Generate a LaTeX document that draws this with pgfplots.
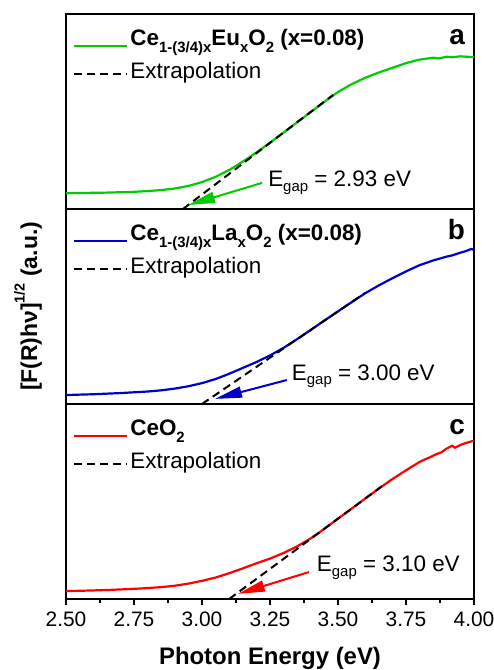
\documentclass[border=0pt]{standalone}
\usepackage{pgfplots}
\pgfplotsset{compat=1.18}
\usepackage{fontspec}
\setmainfont{Liberation Sans}
\usetikzlibrary{arrows.meta}
\definecolor{cgreen}{RGB}{0,204,0}
\definecolor{cblue}{RGB}{0,0,205}
\definecolor{cred}{RGB}{255,0,0}
\newcommand{\sub}[1]{\raisebox{-7bp}{\fontsize{15}{15}\selectfont #1}}
\newcommand{\gsub}[1]{\raisebox{-4.5bp}{\fontsize{15}{15}\selectfont #1}}

\tikzset{
 curve/.style={line width=2.2bp},
 extr/.style={black, line width=2bp, dash pattern=on 8bp off 5bp},
 egap/.style={anchor=base west, inner sep=0pt, font=\fontsize{22.5}{26}\selectfont},
 letter/.style={anchor=base east, inner sep=0pt, font=\fontsize{28}{30}\selectfont\bfseries},
 arr/.style={line width=2bp, -{Triangle[length=27bp,width=11bp]}},
}
\pgfplotsset{
 panel/.style={
  scale only axis, width=408bp, height=195bp,
  xmin=2.5, xmax=4.0, ymin=0, ymax=1,
  ytick=\empty,
  axis line style={line width=1.2bp},
  every tick/.style={black, line width=1.2bp},
  legend cell align=left,
  legend style={draw=none, fill=none, at={(0,1)}, anchor=north west,
    xshift=7bp, yshift=-12bp, font=\fontsize{22.5}{26}\selectfont,
    row sep=4bp, inner sep=0pt,
    nodes={inner sep=2bp, text height=17bp, text depth=8bp}},
  legend image code/.code={\draw[##1] (0bp,0bp) -- (53bp,0bp);},
 },
 curveleg/.style={legend image code/.code={\draw[##1] (0bp,-5bp) -- (53bp,-5bp);}},
}

\begin{document}
\begin{tikzpicture}
\useasboundingbox (-66bp,-71bp) rectangle (428bp,599bp);

% ---------- panel a ----------
\begin{axis}[panel, at={(0,390bp)}, xtick=\empty]
\addplot[curve, cgreen, curveleg] coordinates {
(2.50,0.081)(2.55,0.082)(2.60,0.083)(2.65,0.084)(2.70,0.086)(2.75,0.088)
(2.80,0.092)(2.85,0.097)(2.90,0.105)(2.95,0.118)(3.00,0.138)(3.05,0.165)
(3.10,0.200)(3.15,0.243)(3.20,0.290)(3.25,0.340)(3.30,0.392)(3.35,0.445)
(3.40,0.497)(3.45,0.550)(3.50,0.600)(3.55,0.640)(3.60,0.673)(3.65,0.700)
(3.70,0.724)(3.75,0.748)(3.80,0.766)(3.85,0.776)(3.87,0.772)(3.90,0.781)
(3.92,0.778)(3.95,0.783)(3.97,0.781)(4.00,0.779)};
\addlegendentry{\textbf{Ce\sub{1-(3/4)x}Eu\sub{x}O\sub{2} (x=0.08)}}
\addplot[extr] coordinates {(2.93,0)(3.482,0.585)};
\addlegendentry{Extrapolation}
\draw[arr, cgreen] (axis cs:3.221,0.134) -- (axis cs:2.949,0.02);
\node[egap] at (axis cs:3.243,0.114) {E\gsub{gap} = 2.93 eV};
\node[letter] at (rel axis cs:0.978,0.846) {a};
\end{axis}

% ---------- panel b ----------
\begin{axis}[panel, at={(0,195bp)}, xtick=\empty]
\addplot[curve, cblue, curveleg] coordinates {
(2.50,0.046)(2.55,0.048)(2.60,0.050)(2.65,0.053)(2.70,0.056)(2.75,0.060)
(2.80,0.064)(2.85,0.070)(2.90,0.079)(2.95,0.091)(3.00,0.107)(3.05,0.128)
(3.10,0.155)(3.15,0.185)(3.20,0.215)(3.25,0.249)(3.30,0.288)(3.35,0.333)
(3.40,0.380)(3.45,0.428)(3.50,0.475)(3.55,0.522)(3.60,0.568)(3.65,0.608)
(3.70,0.645)(3.75,0.680)(3.80,0.712)(3.85,0.736)(3.88,0.748)(3.90,0.756)
(3.92,0.762)(3.95,0.776)(3.97,0.784)(3.99,0.795)(4.00,0.790)};
\addlegendentry{\textbf{Ce\sub{1-(3/4)x}La\sub{x}O\sub{2} (x=0.08)}}
\addplot[extr] coordinates {(3.00,0)(3.599,0.569)};
\addlegendentry{Extrapolation}
\draw[arr, cblue] (axis cs:3.312,0.123) -- (axis cs:3.048,0.026);
\node[egap] at (axis cs:3.33,0.123) {E\gsub{gap} = 3.00 eV};
\node[letter] at (rel axis cs:0.978,0.846) {b};
\end{axis}

% ---------- panel c ----------
\begin{axis}[panel, at={(0,0)},
  xtick={2.5,2.75,3,3.25,3.5,3.75,4}, minor x tick num=1,
  xtick pos=bottom, tick align=outside,
  major tick length=6bp, minor tick length=3.5bp,
  /pgf/number format/assume math mode=true,
  xticklabel style={font=\fontsize{21}{24}\selectfont, yshift=-3bp,
    /pgf/number format/.cd, fixed, fixed zerofill, precision=2}]
\addplot[curve, cred, curveleg] coordinates {
(2.50,0.041)(2.55,0.042)(2.60,0.044)(2.65,0.046)(2.70,0.049)(2.75,0.052)
(2.80,0.056)(2.85,0.061)(2.90,0.068)(2.95,0.079)(3.00,0.093)(3.05,0.110)
(3.10,0.132)(3.15,0.157)(3.20,0.183)(3.25,0.207)(3.30,0.236)(3.35,0.270)
(3.40,0.311)(3.45,0.360)(3.50,0.412)(3.55,0.463)(3.60,0.515)(3.65,0.566)
(3.70,0.615)(3.75,0.660)(3.80,0.703)(3.82,0.716)(3.84,0.728)(3.86,0.742)
(3.88,0.752)(3.90,0.772)(3.92,0.786)(3.93,0.776)(3.95,0.790)(3.97,0.800)
(4.00,0.812)};
\addlegendentry{\textbf{CeO\sub{2}}}
\addplot[extr] coordinates {(3.10,0)(3.673,0.59)};
\addlegendentry{Extrapolation}
\draw[arr, cred] (axis cs:3.393,0.138) -- (axis cs:3.132,0.026);
\node[egap] at (axis cs:3.422,0.14) {E\gsub{gap} = 3.10 eV};
\node[letter] at (rel axis cs:0.978,0.846) {c};
\end{axis}

\node[rotate=90, font=\fontsize{23}{27}\selectfont\bfseries] at (-38bp,292.5bp)
  {[F(R)hν]\raisebox{0.55em}{\fontsize{14.5}{15}\selectfont 1/2} (a.u.)};
\node[font=\fontsize{24}{28}\selectfont\bfseries] at (204bp,-59bp) {Photon Energy (eV)};
\end{tikzpicture}
\end{document}
